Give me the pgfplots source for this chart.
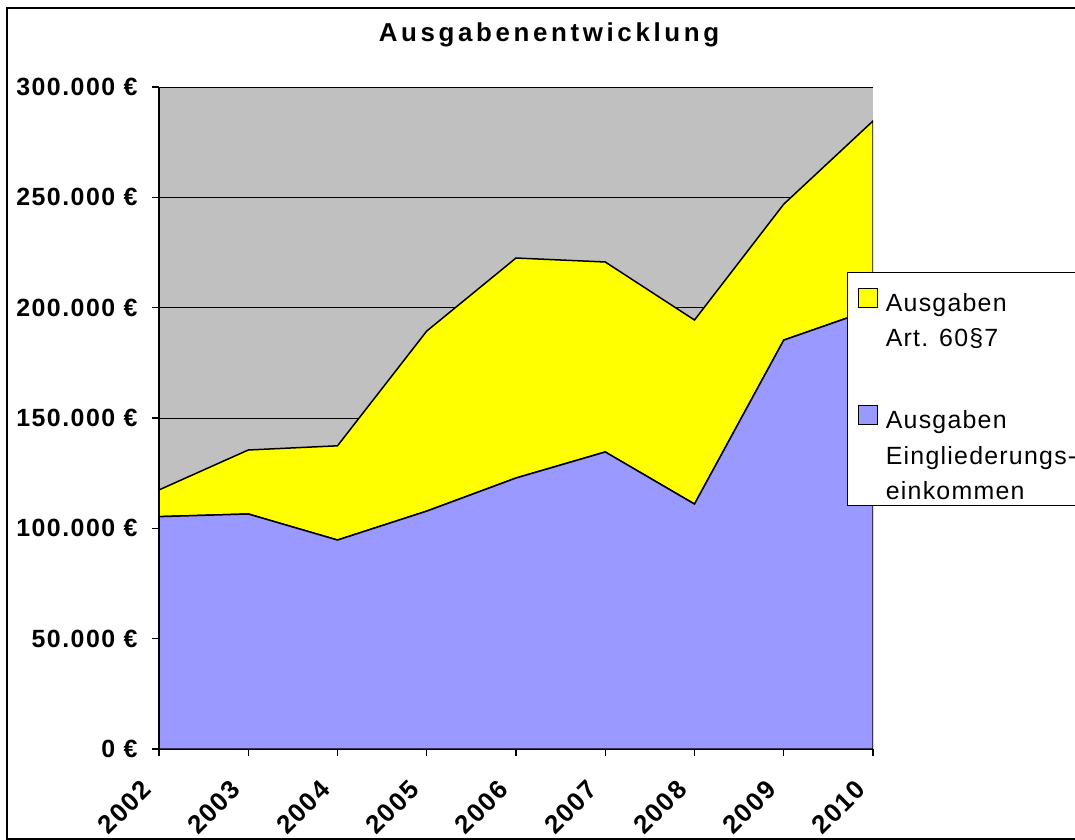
\documentclass[border=0pt]{standalone}
\usepackage{fontspec}
\setmainfont{Liberation Sans}
\newfontfamily\titlefont[LetterSpace=14]{Liberation Sans}
\newfontfamily\tickfont[LetterSpace=6]{Liberation Sans}
\newfontfamily\legfont[LetterSpace=5]{Liberation Sans}
\usepackage{pgfplots}
\pgfplotsset{compat=1.18}
\definecolor{plotgray}{HTML}{C0C0C0}
\definecolor{serblue}{HTML}{9999FF}
\definecolor{seryellow}{HTML}{FFFF00}
\newcommand{\ls}{\hspace*{8bp}\rule[-7bp]{0pt}{41bp}}
\begin{document}
\begin{tikzpicture}
\useasboundingbox (0bp,0bp) rectangle (1075bp,840bp);
\draw[line width=2.5bp] (7bp,832bp) rectangle (1090bp,1bp);
\node[font=\titlefont\bfseries\fontsize{26}{30}\selectfont, anchor=base] at (549bp,798bp) {Ausgabenentwicklung};
\begin{axis}[
  at={(159bp,91bp)}, anchor=south west,
  scale only axis, width=714bp, height=662bp,
  xmin=2002, xmax=2010, ymin=0, ymax=300000,
  axis background/.style={fill=plotgray},
  axis lines*=left,
  axis line style={line width=1.2bp,-},
  tick align=outside,
  major tick length=7bp,
  tick style={line width=1.2bp,black},
  scaled y ticks=false,
  xtick={2002,2003,2004,2005,2006,2007,2008,2009,2010},
  xticklabels={2002,2003,2004,2005,2006,2007,2008,2009,2010},
  ytick={0,50000,100000,150000,200000,250000,300000},
  yticklabels={0 €,50.000 €,100.000 €,150.000 €,200.000 €,250.000 €,300.000 €},
  ymajorgrids,
  grid style={line width=0.8bp,black},
  x tick label style={xshift=-10bp, yshift=-27bp, rotate=45, anchor=east, font=\tickfont\bfseries\fontsize{26}{30}\selectfont},
  y tick label style={xshift=-11bp, font=\tickfont\bfseries\fontsize{25}{30}\selectfont},
  stack plots=y,
  legend cell align=left,
  legend style={at={(0.9636,0.7205)}, anchor=north west, draw=black, line width=1.2bp, fill=white,
    font=\legfont\fontsize{25}{37}\selectfont, inner xsep=10bp, inner ysep=4.5bp,
    row sep=0pt, nodes={inner sep=0pt}},
]
\addplot[fill=serblue, draw=black, line width=1.5bp, forget plot] coordinates {
 (2002,105300) (2003,106500) (2004,94700) (2005,107800) (2006,122800)
 (2007,134600) (2008,111000) (2009,185300) (2010,199400)} \closedcycle;
\addplot[fill=seryellow, draw=black, line width=1.5bp, forget plot] coordinates {
 (2002,12100) (2003,29000) (2004,42700) (2005,81600) (2006,99700)
 (2007,86100) (2008,83400) (2009,61600) (2010,85200)} \closedcycle;
\addlegendimage{legend image code/.code={\draw[fill=seryellow, draw=black, line width=1.2bp] (0bp,-12.5bp) rectangle (19bp,6.5bp);}}
\addlegendentry{\ls Ausgaben}
\addlegendimage{empty legend}
\addlegendentry{\ls Art. 60§7}
\addlegendimage{empty legend}
\addlegendentry{\rule{0pt}{45bp}}
\addlegendimage{legend image code/.code={\draw[fill=serblue, draw=black, line width=1.2bp] (0bp,-12.5bp) rectangle (19bp,6.5bp);}}
\addlegendentry{\ls Ausgaben}
\addlegendimage{empty legend}
\addlegendentry{\ls Eingliederungs-}
\addlegendimage{empty legend}
\addlegendentry{\ls einkommen}
\end{axis}
\end{tikzpicture}
\end{document}
